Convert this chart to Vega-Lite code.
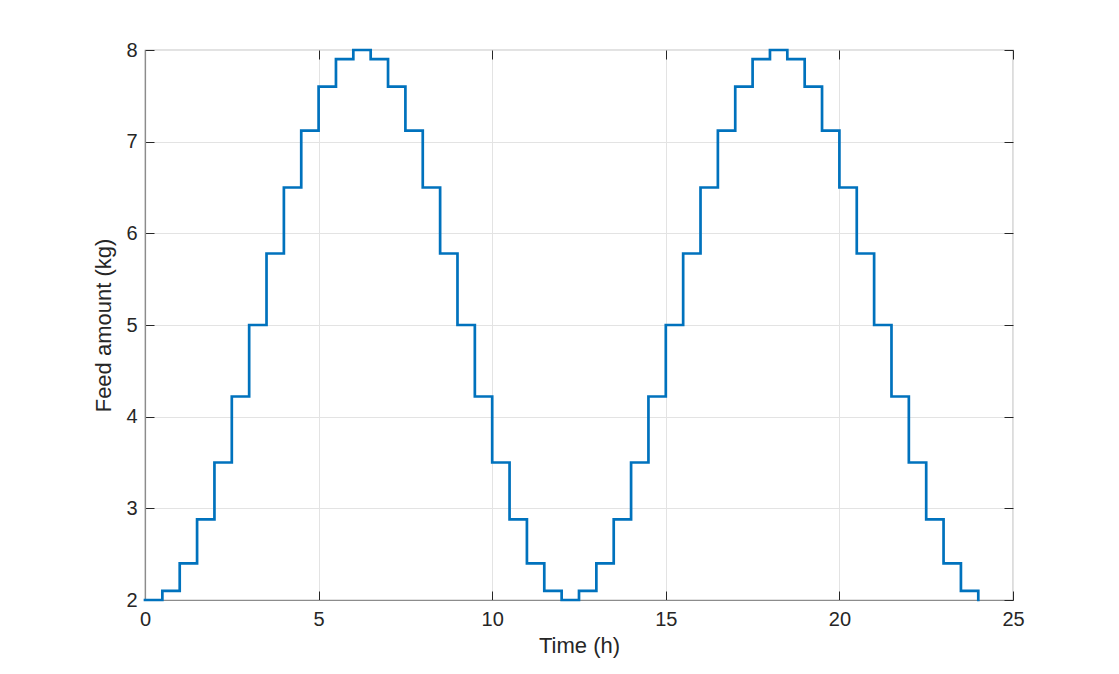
{
  "$schema": "https://vega.github.io/schema/vega-lite/v6.json",
  "width": 868,
  "height": 550,
  "autosize": "none",
  "padding": {"left": 145, "top": 50, "right": 106, "bottom": 74},
  "background": "white",
  "data": {
    "values": [
      {"t": 0, "feed": 2.0}, {"t": 0.5, "feed": 2.10}, {"t": 1, "feed": 2.40}, {"t": 1.5, "feed": 2.88},
      {"t": 2, "feed": 3.50}, {"t": 2.5, "feed": 4.22}, {"t": 3, "feed": 5.0}, {"t": 3.5, "feed": 5.78},
      {"t": 4, "feed": 6.50}, {"t": 4.5, "feed": 7.12}, {"t": 5, "feed": 7.60}, {"t": 5.5, "feed": 7.90},
      {"t": 6, "feed": 8.0}, {"t": 6.5, "feed": 7.90}, {"t": 7, "feed": 7.60}, {"t": 7.5, "feed": 7.12},
      {"t": 8, "feed": 6.50}, {"t": 8.5, "feed": 5.78}, {"t": 9, "feed": 5.0}, {"t": 9.5, "feed": 4.22},
      {"t": 10, "feed": 3.50}, {"t": 10.5, "feed": 2.88}, {"t": 11, "feed": 2.40}, {"t": 11.5, "feed": 2.10},
      {"t": 12, "feed": 2.0}, {"t": 12.5, "feed": 2.10}, {"t": 13, "feed": 2.40}, {"t": 13.5, "feed": 2.88},
      {"t": 14, "feed": 3.50}, {"t": 14.5, "feed": 4.22}, {"t": 15, "feed": 5.0}, {"t": 15.5, "feed": 5.78},
      {"t": 16, "feed": 6.50}, {"t": 16.5, "feed": 7.12}, {"t": 17, "feed": 7.60}, {"t": 17.5, "feed": 7.90},
      {"t": 18, "feed": 8.0}, {"t": 18.5, "feed": 7.90}, {"t": 19, "feed": 7.60}, {"t": 19.5, "feed": 7.12},
      {"t": 20, "feed": 6.50}, {"t": 20.5, "feed": 5.78}, {"t": 21, "feed": 5.0}, {"t": 21.5, "feed": 4.22},
      {"t": 22, "feed": 3.50}, {"t": 22.5, "feed": 2.88}, {"t": 23, "feed": 2.40}, {"t": 23.5, "feed": 2.10},
      {"t": 24, "feed": 2.0}
    ]
  },
  "layer": [
    {
      "mark": {"type": "point", "opacity": 0},
      "encoding": {
        "x": {
          "field": "t",
          "type": "quantitative",
          "scale": {"domain": [0, 25], "nice": false},
          "axis": {"orient": "top", "values": [0, 5, 10, 15, 20, 25], "labels": false, "grid": false, "domain": false, "title": null}
        },
        "y": {
          "field": "feed",
          "type": "quantitative",
          "scale": {"domain": [2, 8], "nice": false, "zero": false},
          "axis": {"orient": "right", "values": [2, 3, 4, 5, 6, 7, 8], "labels": false, "grid": false, "domain": false, "title": null}
        }
      }
    },
    {
      "mark": {
        "type": "line",
        "interpolate": "step-after",
        "color": "#0072BD",
        "strokeWidth": 2.7,
        "strokeCap": "square"
      },
      "encoding": {
        "x": {
          "field": "t",
          "type": "quantitative",
          "scale": {"domain": [0, 25], "nice": false},
          "axis": {"orient": "bottom", "title": "Time (h)", "values": [0, 5, 10, 15, 20, 25], "grid": true, "labelFlush": false, "labelPadding": 18, "titlePadding": 6}
        },
        "y": {
          "field": "feed",
          "type": "quantitative",
          "scale": {"domain": [2, 8], "nice": false, "zero": false},
          "axis": {"orient": "left", "title": "Feed amount (kg)", "values": [2, 3, 4, 5, 6, 7, 8], "grid": true, "labelFlush": false, "labelPadding": 17, "titlePadding": 10}
        }
      }
    }
  ],
  "resolve": {"axis": {"x": "independent", "y": "independent"}},
  "config": {
    "font": "Liberation Sans",
    "view": {"stroke": "#8c8c8c", "strokeWidth": 1.2},
    "axis": {
      "domainColor": "#8c8c8c",
      "domainWidth": 1.2,
      "gridColor": "#e3e3e3",
      "gridWidth": 1,
      "tickColor": "#262626",
      "tickSize": -9,
      "tickWidth": 1,
      "labelColor": "#262626",
      "labelFontSize": 20,
      "titleColor": "#262626",
      "titleFontSize": 22,
      "titleFontWeight": "normal"
    }
  }
}
